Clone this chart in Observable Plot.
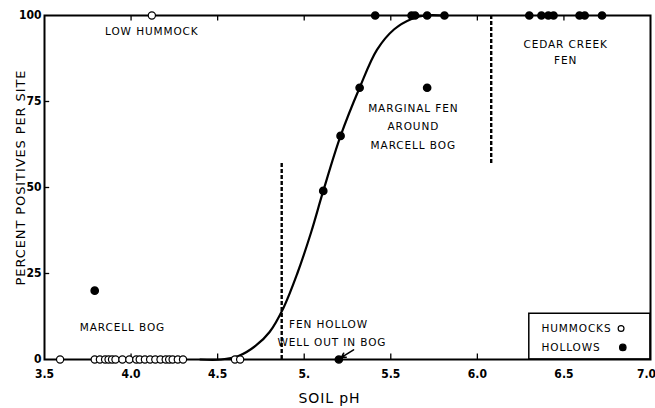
<!DOCTYPE html>
<html><head><meta charset="utf-8">
<script src="https://cdn.jsdelivr.net/npm/d3@7"></script>
<script src="https://cdn.jsdelivr.net/npm/@observablehq/plot@0.6"></script>
<style>
body{margin:0;background:#fff}
svg{display:block}
</style>
</head><body><div id="chart"></div>
<script>
// Hummocks (open circles)
const hummockPH  = [3.59,3.79,3.82,3.85,3.87,3.89,3.91,3.95,3.99,4.03,4.05,4.08,4.11,4.14,4.17,4.20,4.22,4.24,4.27,4.30,4.60,4.63,4.12];
const hummockPct = [0,0,0,0,0,0,0,0,0,0,0,0,0,0,0,0,0,0,0,0,0,0,100];
// Hollows (filled circles)
const hollowPH  = [3.79,5.20,5.11,5.21,5.32,5.71,5.41,5.62,5.64,5.71,5.81,6.30,6.37,6.41,6.44,6.59,6.62,6.72];
const hollowPct = [20,0,49,65,79,79,100,100,100,100,100,100,100,100,100,100,100,100];
// Fitted curve
const curvePH  = [4.40,4.52,4.62,4.72,4.80,4.88,4.96,5.04,5.11,5.21,5.32,5.42,5.52,5.62,5.70,5.80];
const curvePct = [0,0,1,4,8,15,25,37,49,65,79,90,96,99,100,100];
// Dashed boundaries
const boundaryPH   = [4.87, 6.08];
const boundaryLow  = [0, 57];
const boundaryHigh = [57, 100];
// Ticks
const xTickValues = [3.5,4,4.5,5,5.5,6,6.5,7];
const xTickLabels = ["3.5","4.0","4.5","5.","5.5","6.0","6.5","7.0"];
const xInnerTicks = [4,4.5,5,5.5,6,6.5];
const yTickValues = [0,25,50,75,100];
const yInnerTicks = [25,50,75];
// Annotations
const noteText = ["LOW HUMMOCK","CEDAR CREEK","FEN","MARGINAL FEN","AROUND","MARCELL BOG","MARCELL BOG","FEN HOLLOW","WELL OUT IN BOG"];
const notePH   = [4.12,6.51,6.51,5.63,5.63,5.63,3.95,5.14,5.16];
const notePct  = [95.4,91.6,87.0,72.8,67.6,62.1,9.2,10.1,4.9];
const legendLabels = ["HUMMOCKS","HOLLOWS"];

const hummocks = hummockPH.map((x,i)=>({x, y:hummockPct[i]}));
const hollows = hollowPH.map((x,i)=>({x, y:hollowPct[i]}));
const curve = curvePH.map((x,i)=>({x, y:curvePct[i]}));
const bounds = boundaryPH.map((x,i)=>({x, y1:boundaryLow[i], y2:boundaryHigh[i]}));
const notes = noteText.map((t,i)=>({t, x:notePH[i], y:notePct[i]}));

const legendBox = {x1:6.30, x2:7.0, y1:0, y2:13.3};
const legendRows = [
  {t:legendLabels[0], x:6.37, y:9.0, sx:6.83, fill:"white", r:2.6},
  {t:legendLabels[1], x:6.37, y:3.5, sx:6.84, fill:"black", r:3.2}
];

const annFont = {fontFamily:"DejaVu Sans, sans-serif", fontSize:10.5, fill:"black"};

const chart = Plot.plot({
  width:655, height:408,
  marginLeft:44, marginRight:5, marginTop:15, marginBottom:49,
  x:{domain:[3.5,7]},
  y:{domain:[0,100]},
  style:{fontFamily:"DejaVu Sans, sans-serif", color:"black", background:"white"},
  marks:[
    Plot.axisX({ticks:xTickValues, tickFormat:(d)=>xTickLabels[xTickValues.indexOf(d)], tickSize:0, tickPadding:10, label:null}),
    Plot.axisY({ticks:yTickValues, tickSize:0, tickPadding:3, label:null}),
    Plot.ruleX(xInnerTicks, {x:d=>d, y1:0, y2:1.6, stroke:"black", strokeWidth:1.3}),
    Plot.ruleX(xInnerTicks, {x:d=>d, y1:98.4, y2:100, stroke:"black", strokeWidth:1.3}),
    Plot.ruleY(yInnerTicks, {y:d=>d, x1:3.5, x2:3.53, stroke:"black", strokeWidth:1.3}),
    Plot.ruleX(bounds, {x:"x", y1:"y1", y2:"y2", stroke:"black", strokeWidth:2.4, strokeDasharray:"4,2"}),
    Plot.line(curve, {x:"x", y:"y", curve:"catmull-rom", stroke:"black", strokeWidth:2.2}),
    Plot.rect([legendBox], {x1:"x1", x2:"x2", y1:"y1", y2:"y2", fill:"white", stroke:"black", strokeWidth:1.5}),
    Plot.frame({stroke:"black", strokeWidth:2}),
    Plot.dot(hummocks, {x:"x", y:"y", r:3.6, fill:"white", stroke:"black", strokeWidth:1.2}),
    Plot.dot(hollows, {x:"x", y:"y", r:3.6, fill:"black", stroke:"black"}),
    Plot.arrow([{x1:5.285, y1:2.8, x2:5.215, y2:0.6}], {x1:"x1", y1:"y1", x2:"x2", y2:"y2", stroke:"black", strokeWidth:1.6, headLength:6}),
    Plot.text(notes, {x:"x", y:"y", text:"t", ...annFont, textAnchor:"middle", lineAnchor:"middle"}),
    Plot.text(legendRows, {x:"x", y:"y", text:"t", ...annFont, textAnchor:"start", lineAnchor:"middle"}),
    Plot.dot(legendRows, {x:"sx", y:"y", r:"r", fill:"fill", stroke:"black", strokeWidth:1.2}),
    Plot.text(["SOIL pH"], {frameAnchor:"bottom", text:d=>d, textAnchor:"middle", dx:-18, dy:39, fontSize:14, fill:"black", lineAnchor:"middle"}),
    Plot.text(["PERCENT POSITIVES PER SITE"], {frameAnchor:"left", text:d=>d, textAnchor:"middle", rotate:-90, dx:-24, dy:-10, fontSize:13, fill:"black", lineAnchor:"middle"})
  ]
});
document.getElementById("chart").appendChild(chart);
// letter spacing for annotation texts and titles
chart.querySelectorAll("g[aria-label='text'] text").forEach(t=>t.style.letterSpacing="0.9px");
// bold condensed tick labels
chart.querySelectorAll("g[aria-label*='tick label'] text").forEach(t=>{
  t.setAttribute("font-weight","bold");
  t.style.fontFamily = "'DejaVu Sans Condensed', 'DejaVu Sans', sans-serif";
  t.style.fontWeight = "700";
  t.style.fontSize = "12px";
  t.style.fontStretch = "condensed";
});
const xl = chart.querySelectorAll("g[aria-label*='x-axis tick label'] text");
if (xl.length) xl[xl.length-1].setAttribute("dx","-4");
</script>
</body></html>
